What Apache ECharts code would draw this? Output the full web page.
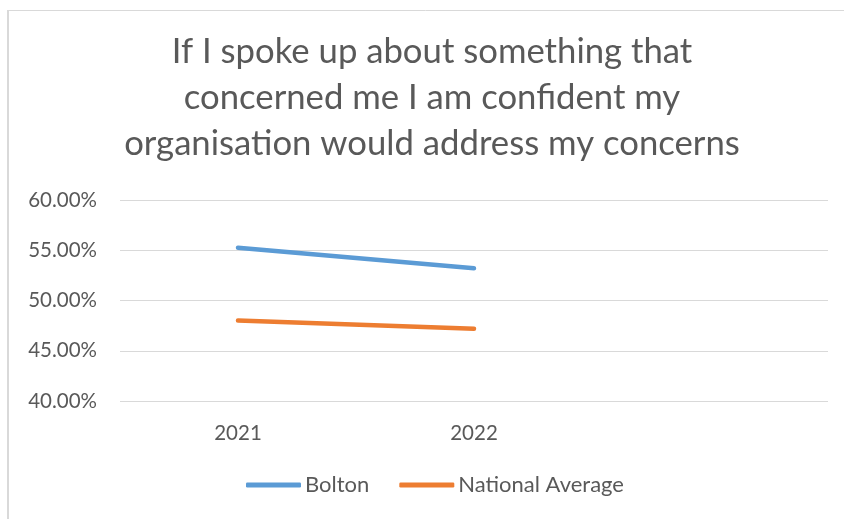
<!DOCTYPE html>
<html>
<head>
<meta charset="utf-8">
<title>Speaking up survey</title>
<script src="https://cdn.jsdelivr.net/npm/echarts@6/dist/echarts.min.js"></script>
<style>
  html, body { margin: 0; padding: 0; background: #ffffff; }
  #chart { width: 844px; height: 519px; }
</style>
</head>
<body>
<div id="chart"></div>
<script>
// Survey years (the trailing empty slot leaves room on the right of the axis)
const years = ['2021', '2022', ''];
// Share of staff agreeing, in percent
const bolton = [55.26, 53.2];
const nationalAverage = [48.0, 47.2];
// Value axis range and step, in percent
const yMin = 40, yMax = 60, yStep = 5;

const textColor = '#595959';
const fontFamily = 'Lato, "Open Sans", sans-serif';

const chart = echarts.init(document.getElementById('chart'), null, { renderer: 'canvas' });

chart.setOption({
  backgroundColor: '#ffffff',
  animation: false,
  title: {
    text: 'If I spoke up about something that\nconcerned me I am confident my\norganisation would address my concerns',
    left: 432,
    top: 29,
    padding: 0,
    textAlign: 'center',
    textStyle: {
      fontFamily: fontFamily,
      fontSize: 34.7,
      fontWeight: 'normal',
      color: textColor,
      lineHeight: 46
    }
  },
  legend: {
    top: 474,
    left: 246,
    padding: 0,
    itemWidth: 55,
    itemHeight: 5,
    itemGap: 30,
    icon: 'roundRect',
    textStyle: {
      fontFamily: fontFamily,
      fontSize: 22,
      color: textColor,
      padding: [0, 0, 0, -1]
    },
    data: ['Bolton', 'National Average']
  },
  grid: {
    left: 120,
    right: 16,
    top: 200,
    bottom: 118,
    containLabel: false
  },
  xAxis: {
    type: 'category',
    data: years,
    boundaryGap: true,
    axisLine: { show: false },
    axisTick: { show: false },
    axisLabel: {
      margin: 22,
      fontFamily: fontFamily,
      fontSize: 20.5,
      color: textColor
    }
  },
  yAxis: {
    type: 'value',
    min: yMin,
    max: yMax,
    interval: yStep,
    axisLine: { show: false },
    axisTick: { show: false },
    splitLine: { lineStyle: { color: '#d9d9d9', width: 1 } },
    axisLabel: {
      margin: 23,
      fontFamily: fontFamily,
      fontSize: 20.5,
      color: textColor,
      formatter: v => v.toFixed(2) + '%'
    }
  },
  series: [
    {
      name: 'Bolton',
      type: 'line',
      data: bolton,
      color: '#5B9BD5',
      showSymbol: false,
      symbol: 'none',
      lineStyle: { width: 4.5, cap: 'round', join: 'round' }
    },
    {
      name: 'National Average',
      type: 'line',
      data: nationalAverage,
      color: '#ED7D31',
      showSymbol: false,
      symbol: 'none',
      lineStyle: { width: 4.5, cap: 'round', join: 'round' }
    }
  ],
  graphic: [
    // chart frame: left and top edges
    {
      type: 'line',
      shape: { x1: 8, y1: 10, x2: 8, y2: 519 },
      style: { stroke: '#d9d9d9', lineWidth: 2 },
      silent: true
    },
    {
      type: 'line',
      shape: { x1: 7, y1: 10.5, x2: 844, y2: 10.5 },
      style: { stroke: '#d9d9d9', lineWidth: 1 },
      silent: true
    }
  ]
});
</script>
</body>
</html>
